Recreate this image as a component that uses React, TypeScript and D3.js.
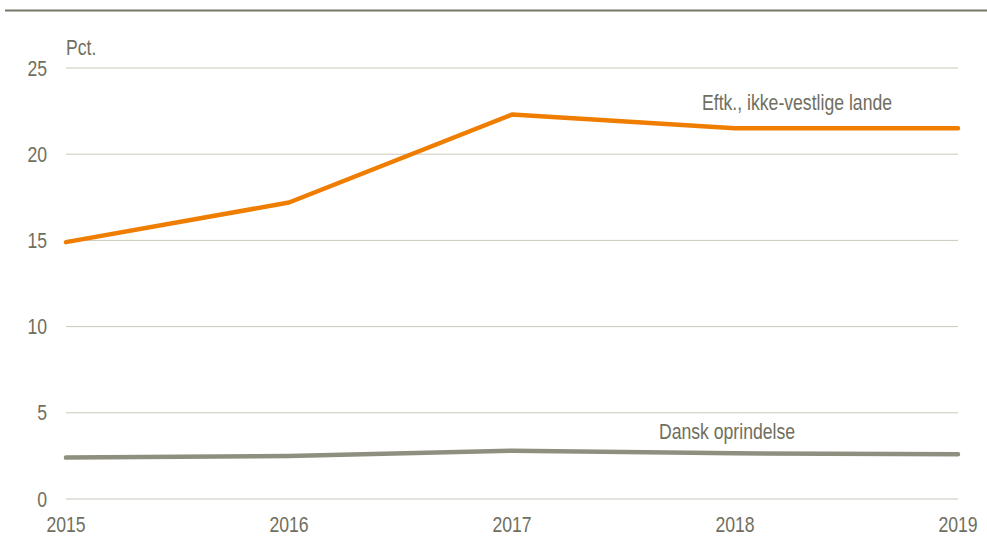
import * as d3 from "d3";

const years = [2015, 2016, 2017, 2018, 2019];
const ikkeVestlige = [14.9, 17.2, 22.3, 21.5, 21.5];
const danskOprindelse = [2.4, 2.5, 2.8, 2.65, 2.6];
const yTicks = [0, 5, 10, 15, 20, 25];

const W = 987;
const H = 538;
const textColor = "#6f6f60";
const fontSize = 21.5;
// no narrow font installed, so squeeze the regular one horizontally
const squeeze = 0.82;

type LabelProps = {
  x: number;
  y: number;
  anchor?: "start" | "middle" | "end";
  children: React.ReactNode;
};

const Label = ({ x, y, anchor = "start", children }: LabelProps) => (
  <text
    transform={`translate(${x},${y}) scale(${squeeze},1)`}
    textAnchor={anchor}
    fontSize={fontSize}
    fill={textColor}
  >
    {children}
  </text>
);

export default function App() {
  const x = d3.scaleLinear().domain([2015, 2019]).range([66, 958]);
  const y = d3.scaleLinear().domain([0, 25]).range([499, 68]);

  const line = d3
    .line<number>()
    .x((_, i) => x(years[i]))
    .y((d) => y(d));

  return (
    <svg
      width={W}
      height={H}
      style={{
        position: "absolute",
        left: 0,
        top: 0,
        fontFamily: "'Liberation Sans', Arial, sans-serif",
      }}
    >
      <rect width={W} height={H} fill="#ffffff" />
      {/* top rule */}
      <line x1={5} x2={W} y1={10.5} y2={10.5} stroke="#77776a" strokeWidth={2} />

      {/* grid + y ticks */}
      {yTicks.map((t) => (
        <g key={t}>
          <line x1={x(2015)} x2={x(2019)} y1={y(t)} y2={y(t)} stroke="#c9c9bd" strokeWidth={1} />
          <Label x={47} y={y(t) + 7.5} anchor="end">
            {t}
          </Label>
        </g>
      ))}
      <Label x={66} y={55}>
        Pct.
      </Label>

      {/* x ticks */}
      {years.map((yr) => (
        <Label key={yr} x={x(yr)} y={532} anchor="middle">
          {yr}
        </Label>
      ))}

      <path
        d={line(danskOprindelse) || ""}
        fill="none"
        stroke="#8f8f80"
        strokeWidth={4.5}
        strokeLinecap="round"
        strokeLinejoin="round"
      />
      <path
        d={line(ikkeVestlige) || ""}
        fill="none"
        stroke="#ef7d00"
        strokeWidth={4.5}
        strokeLinecap="round"
        strokeLinejoin="round"
      />

      <Label x={797} y={110} anchor="middle">
        Eftk., ikke-vestlige lande
      </Label>
      <Label x={727} y={439} anchor="middle">
        Dansk oprindelse
      </Label>
    </svg>
  );
}
